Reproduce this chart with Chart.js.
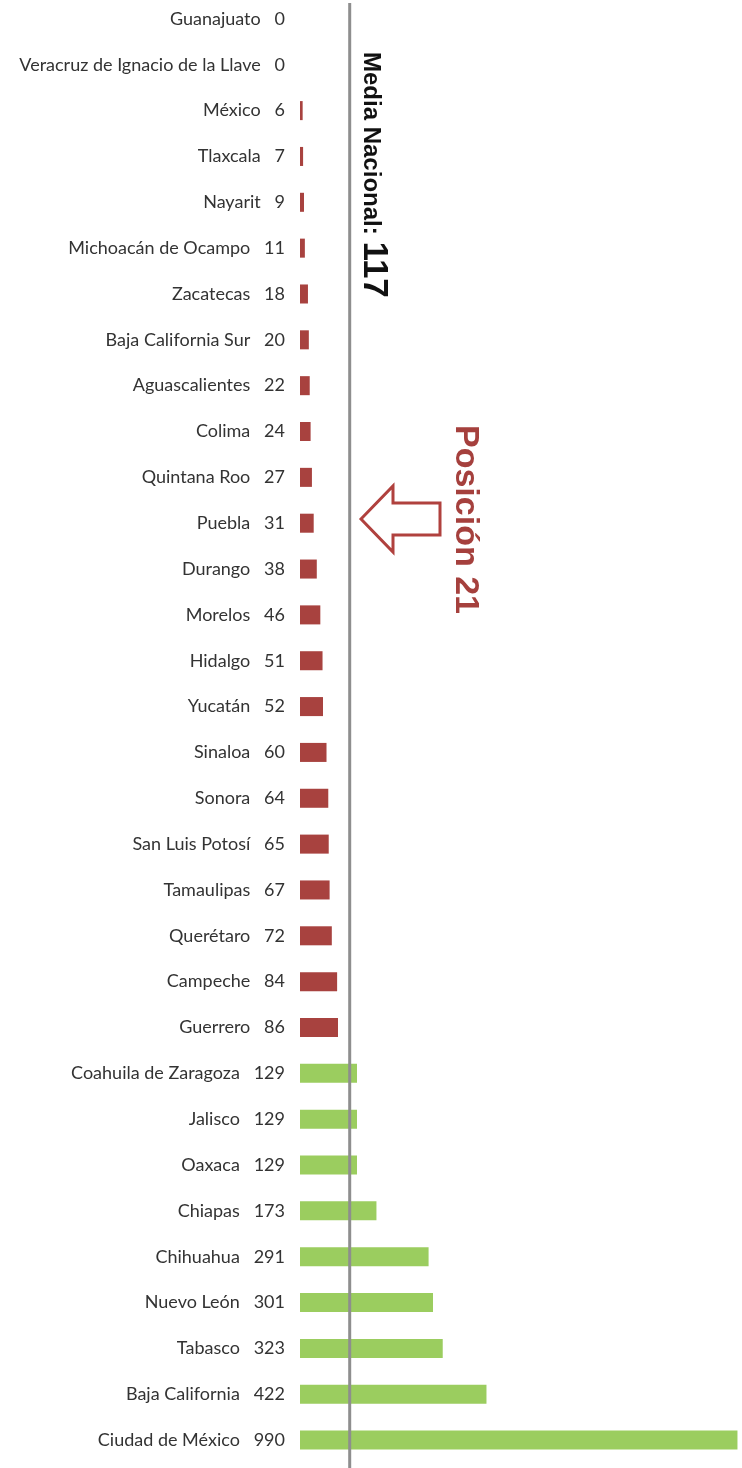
<!DOCTYPE html>
<html>
<head>
<meta charset="utf-8">
<script src="https://cdn.jsdelivr.net/npm/chart.js@4"></script>
<style>
  html, body { margin: 0; padding: 0; background: #fff; overflow: hidden; }
  #wrap { position: absolute; left: 0; top: -4px; width: 742px; height: 1472px; }
</style>
</head>
<body>
<div id="wrap"><canvas id="bars"></canvas></div>
<script>
const estados = [
  "Guanajuato", "Veracruz de Ignacio de la Llave", "México", "Tlaxcala", "Nayarit",
  "Michoacán de Ocampo", "Zacatecas", "Baja California Sur", "Aguascalientes", "Colima",
  "Quintana Roo", "Puebla", "Durango", "Morelos", "Hidalgo", "Yucatán", "Sinaloa",
  "Sonora", "San Luis Potosí", "Tamaulipas", "Querétaro", "Campeche", "Guerrero",
  "Coahuila de Zaragoza", "Jalisco", "Oaxaca", "Chiapas", "Chihuahua", "Nuevo León",
  "Tabasco", "Baja California", "Ciudad de México"
];
const valores = [
  0, 0, 6, 7, 9, 11, 18, 20, 22, 24, 27, 31, 38, 46, 51, 52, 60, 64, 65, 67, 72, 84, 86,
  129, 129, 129, 173, 291, 301, 323, 422, 990
];
const mediaNacional = 117;
const posicion = 21;

const rojo = "#A8423F";
const verde = "#9BCD5F";

// mean line + hand-drawn annotations (canvas is shifted 4px up)
const notas = {
  id: "notas",
  afterDatasetsDraw(chart) {
    const ctx = chart.ctx;
    const x = chart.scales.x.getPixelForValue(mediaNacional) - 2;
    ctx.save();
    ctx.strokeStyle = "#8E8E8E";
    ctx.lineWidth = 3;
    ctx.beginPath();
    ctx.moveTo(x, 7);
    ctx.lineTo(x, chart.height);
    ctx.stroke();

    ctx.fillStyle = "#111";
    ctx.translate(364, 56);
    ctx.rotate(Math.PI / 2);
    ctx.font = "bold 24px 'Liberation Sans', Arial, sans-serif";
    ctx.textBaseline = "alphabetic";
    ctx.fillText("Media Nacional:", 0, 0);
    const w = ctx.measureText("Media Nacional: ").width;
    ctx.font = "bold 35px 'Liberation Sans', Arial, sans-serif";
    ctx.fillText(String(mediaNacional), w, 0);
    ctx.restore();

    ctx.save();
    ctx.fillStyle = "#A5403D";
    ctx.translate(456, 429);
    ctx.rotate(Math.PI / 2);
    ctx.font = "bold 34px 'Liberation Sans', Arial, sans-serif";
    ctx.fillText("Posición " + posicion, 0, 0);
    ctx.restore();

    ctx.save();
    ctx.translate(0, 4);
    ctx.strokeStyle = "#B0413E";
    ctx.lineWidth = 3;
    ctx.beginPath();
    ctx.moveTo(361, 519);
    ctx.lineTo(393, 486);
    ctx.lineTo(393, 503);
    ctx.lineTo(440, 503);
    ctx.lineTo(440, 535);
    ctx.lineTo(393, 535);
    ctx.lineTo(393, 552);
    ctx.closePath();
    ctx.stroke();
    ctx.restore();
  }
};

new Chart(document.getElementById("bars"), {
  type: "bar",
  data: {
    labels: estados,
    datasets: [{
      data: valores,
      backgroundColor: valores.map(v => v < mediaNacional ? rojo : verde),
      borderWidth: 0,
      barPercentage: 0.83,
      categoryPercentage: 0.5
    }]
  },
  options: {
    indexAxis: "y",
    responsive: true,
    maintainAspectRatio: false,
    animation: false,
    layout: { padding: { top: 0, bottom: 5, left: 0, right: 1 } },
    plugins: { legend: { display: false }, tooltip: { enabled: false } },
    scales: {
      x: { display: false, min: 0, max: 998 },
      y: {
        afterFit(scale) {
          scale.width = 300;
          scale.paddingTop = 0;
          scale.paddingBottom = 0;
        },
        grid: { display: false, drawTicks: false },
        border: { display: false },
        ticks: {
          padding: 15,
          color: "#333333",
          font: { family: "Lato", size: 18 },
          callback: (v, i) => estados[i] + "   " + valores[i]
        }
      }
    }
  },
  plugins: [notas]
});
</script>
</body>
</html>
